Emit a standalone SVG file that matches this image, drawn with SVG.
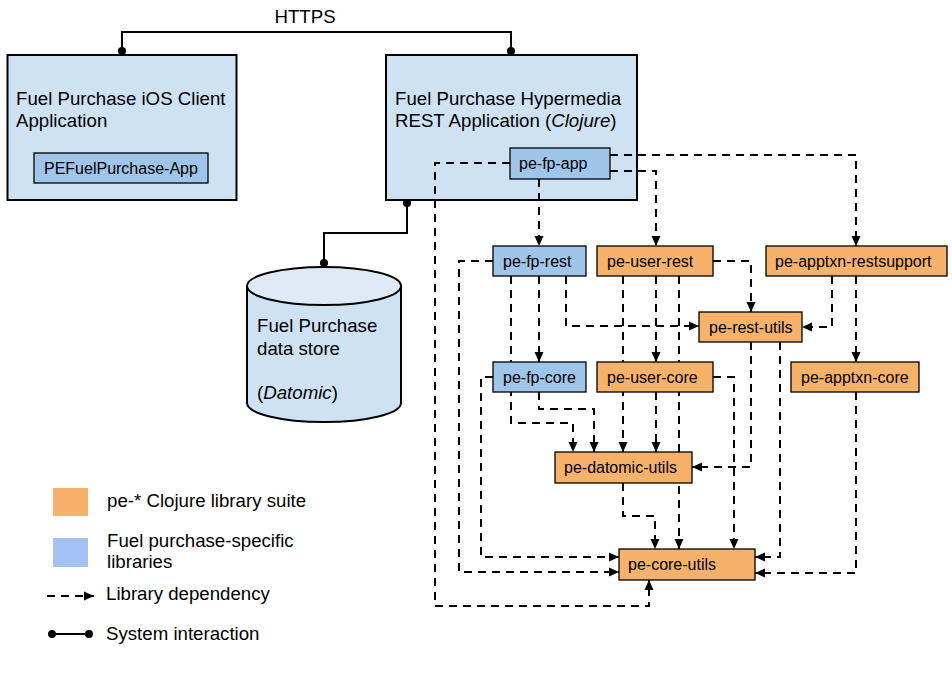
<svg xmlns="http://www.w3.org/2000/svg" width="952" height="681" viewBox="0 0 952 681">
<defs>
<marker id="arr" viewBox="0 0 10 10" refX="10" refY="5" markerWidth="10" markerHeight="10" markerUnits="userSpaceOnUse" orient="auto">
<path d="M0,0.5 L10,5 L0,9.5 z" fill="#000"/>
</marker>
<style>
text{font-family:"Liberation Sans",Arial,sans-serif;fill:#000}
.t{font-size:18.67px}
.n{font-size:16px}
.big{fill:#cfe2f3;stroke:#000;stroke-width:2}
.blue{fill:#9fc5e8;stroke:#000;stroke-width:1.3}
.orange{fill:#f6b26b;stroke:#000;stroke-width:1.3}
.dep{fill:none;stroke:#000;stroke-width:2;stroke-dasharray:8,6;marker-end:url(#arr)}
.sys{fill:none;stroke:#000;stroke-width:2}
</style>
</defs>
<rect width="952" height="681" fill="#fff"/>

<g id="ios-client">
<rect class="big" x="7.5" y="55" width="229" height="145"/>
<text class="t" x="16" y="105">Fuel Purchase iOS Client</text>
<text class="t" x="16" y="127">Application</text>
<rect class="blue" x="34" y="153" width="174" height="30"/>
<text class="n" x="44" y="174">PEFuelPurchase-App</text>
</g>

<g id="rest-app">
<rect class="big" x="386" y="55" width="251" height="145"/>
<text class="t" x="395" y="105">Fuel Purchase Hypermedia</text>
<text class="t" x="395" y="127">REST Application (<tspan font-style="italic">Clojure</tspan>)</text>
</g>

<g id="datastore">
<path d="M247,286 V403 A77,19 0 0 0 401,403 V286" fill="#cfe2f3" stroke="#000" stroke-width="2"/>
<ellipse cx="324" cy="286" rx="77" ry="19" fill="#deebf7" stroke="#000" stroke-width="2"/>
<text class="t" x="257" y="332">Fuel Purchase</text>
<text class="t" x="257" y="355">data store</text>
<text class="t" x="257" y="399">(<tspan font-style="italic">Datomic</tspan>)</text>
</g>

<g id="system-interactions">
<text class="t" x="305" y="23" text-anchor="middle">HTTPS</text>
<path class="sys" d="M122,51 V32 H511 V51"/>
<circle cx="122" cy="51" r="4"/>
<circle cx="511" cy="51" r="4"/>
<path class="sys" d="M407,203 V233 H324 V263"/>
<circle cx="407" cy="203" r="4"/>
<circle cx="324" cy="263" r="4"/>
</g>

<g id="connectors">
<path class="dep" d="M539,179 V246"/>
<path class="dep" d="M610,171 H656 V246"/>
<path class="dep" d="M610,155 H856 V246"/>
<path class="dep" d="M510,163 H435 V606 H649 V580"/>
<path class="dep" d="M539,276 V362"/>
<path class="dep" d="M566,276 V326 H699"/>
<path class="dep" d="M511,276 V423 H573 V452"/>
<path class="dep" d="M493,261 H459 V572 H619"/>
<path class="dep" d="M656,276 V362"/>
<path class="dep" d="M623,276 V452"/>
<path class="dep" d="M679,276 V549"/>
<path class="dep" d="M713,261 H751 V312"/>
<path class="dep" d="M832,276 V327 H802"/>
<path class="dep" d="M856,276 V362"/>
<path class="dep" d="M539,392 V409 H594 V452"/>
<path class="dep" d="M493,377 H481 V557 H619"/>
<path class="dep" d="M656,392 V452"/>
<path class="dep" d="M713,377 H734 V549"/>
<path class="dep" d="M751,342 V467 H692"/>
<path class="dep" d="M780,342 V557 H755"/>
<path class="dep" d="M856,392 V573 H755"/>
<path class="dep" d="M623,483 V516 H655 V549"/>
</g>

<g id="pe-fp-app"><rect class="blue" x="510" y="148" width="100" height="31"/><text class="n" x="519" y="169">pe-fp-app</text></g>
<g id="pe-fp-rest"><rect class="blue" x="493" y="246" width="93" height="30"/><text class="n" x="503" y="267">pe-fp-rest</text></g>
<g id="pe-user-rest"><rect class="orange" x="597" y="246" width="116" height="30"/><text class="n" x="607" y="267">pe-user-rest</text></g>
<g id="pe-apptxn-restsupport"><rect class="orange" x="766" y="246" width="181" height="30"/><text class="n" x="775" y="267">pe-apptxn-restsupport</text></g>
<g id="pe-rest-utils"><rect class="orange" x="699" y="312" width="103" height="30"/><text class="n" x="709" y="333">pe-rest-utils</text></g>
<g id="pe-fp-core"><rect class="blue" x="493" y="362" width="93" height="30"/><text class="n" x="503" y="383">pe-fp-core</text></g>
<g id="pe-user-core"><rect class="orange" x="597" y="362" width="116" height="30"/><text class="n" x="607" y="383">pe-user-core</text></g>
<g id="pe-apptxn-core"><rect class="orange" x="791" y="362" width="128" height="30"/><text class="n" x="801" y="383">pe-apptxn-core</text></g>
<g id="pe-datomic-utils"><rect class="orange" x="555" y="452" width="137" height="31"/><text class="n" x="564" y="473">pe-datomic-utils</text></g>
<g id="pe-core-utils"><rect class="orange" x="619" y="549" width="136" height="31"/><text class="n" x="628" y="570">pe-core-utils</text></g>

<g id="legend">
<rect x="53" y="488" width="35" height="28" fill="#f6b26b"/>
<text class="t" x="107" y="507">pe-* Clojure library suite</text>
<rect x="53" y="538" width="35" height="29" fill="#a4c2f4"/>
<text class="t" x="107" y="547">Fuel purchase-specific</text>
<text class="t" x="107" y="568">libraries</text>
<path class="dep" d="M47,596 H94"/>
<text class="t" x="106" y="600">Library dependency</text>
<path class="sys" d="M52,634 H89"/>
<circle cx="52" cy="634" r="4"/>
<circle cx="89" cy="634" r="4"/>
<text class="t" x="106" y="640">System interaction</text>
</g>
</svg>
